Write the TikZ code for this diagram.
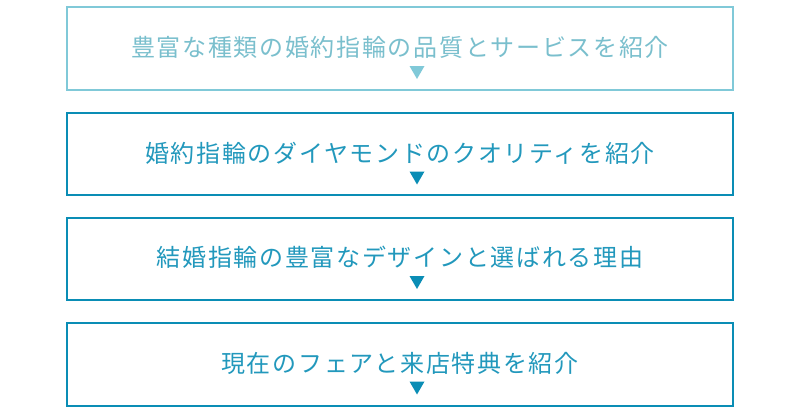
\documentclass[tikz,border=0pt]{standalone}
\usepackage{fontspec}
\newfontfamily\jpfont[LetterSpace=7]{Noto Sans CJK JP}
\definecolor{stepblue}{HTML}{0A8DB5}
\definecolor{steplight}{HTML}{80C9D8}
\tikzset{
  stepbox/.style={draw=stepblue,line width=2pt,minimum width=666pt,minimum height=82pt,inner sep=0pt},
  steptext/.style={text=stepblue!90!white,font=\jpfont\fontsize{24pt}{28pt}\selectfont,inner sep=0pt},
  tri/.style={fill=stepblue}
}
\begin{document}
\begin{tikzpicture}[x=1pt,y=-1pt]
  \useasboundingbox (0,0) rectangle (800,410);
  % boxes
  \node[stepbox,draw=steplight,minimum height=83pt] (box1) at (400,48.5) {};
  \node[stepbox] (box2) at (400,154) {};
  \node[stepbox] (box3) at (400,258.5) {};
  \node[stepbox,minimum height=83pt] (box4) at (400,364) {};
  % texts
  \node[steptext,text=steplight!95!black] (txt1) at ([yshift=1pt]box1.center) {豊富な種類の婚約指輪の品質とサービスを紹介};
  \node[steptext] (txt2) at ([yshift=1pt]box2.center) {婚約指輪のダイヤモンドのクオリティを紹介};
  \node[steptext] (txt3) at ([yshift=1pt]box3.center) {結婚指輪の豊富なデザインと選ばれる理由};
  \node[steptext] (txt4) at ([yshift=1pt]box4.center) {現在のフェアと来店特典を紹介};
  % triangles
  \fill[tri,fill=steplight] ([shift={(9.5,17.5)}]box1.center) -- ++(15,0) -- ++(-7.5,13) -- cycle;
  \foreach \b in {box2,box3,box4}
    \fill[tri] ([shift={(9.5,17.5)}]\b.center) -- ++(15,0) -- ++(-7.5,13) -- cycle;
\end{tikzpicture}
\end{document}
